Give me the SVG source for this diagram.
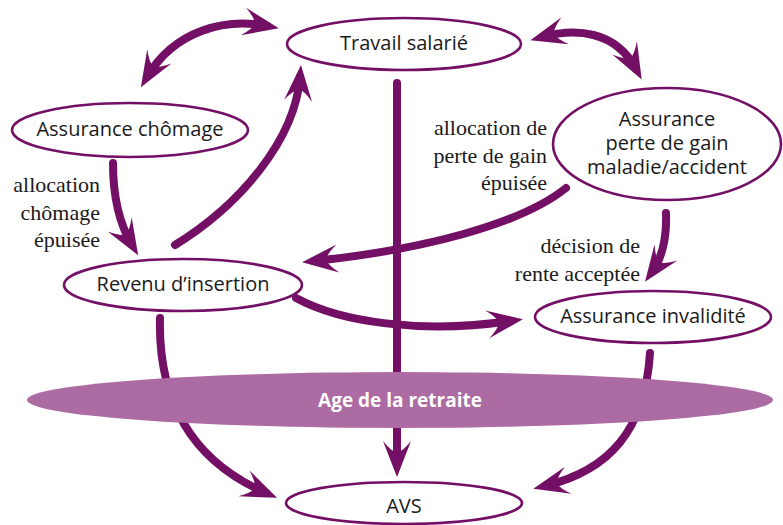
<svg xmlns="http://www.w3.org/2000/svg" width="783" height="525" viewBox="0 0 783 525">
<style>
.node{fill:#fff;stroke:#730f65;stroke-width:2.6}
.lbl{font-family:"Open Sans","Liberation Sans",sans-serif;font-size:20px;fill:#1a1a1a;text-anchor:middle}
.con{fill:none;stroke:#730f65;stroke-width:8;stroke-linecap:round}
.arr{marker-end:url(#ah)}
.dbl{marker-start:url(#ah);marker-end:url(#ah)}
</style>
<defs>
<marker id="ah" markerUnits="userSpaceOnUse" markerWidth="50" markerHeight="40" viewBox="-30 -20 50 40" refX="0" refY="0" orient="auto-start-reverse">
<path d="M12,0 L-24,-14 Q-14,-6 -12,0 Q-14,6 -24,14 Z" fill="#730f65"/>
</marker>
</defs>
<rect width="783" height="525" fill="#fff"/>
<g id="connectors">
<path class="con dbl" d="M147,77 C175,30 225,18 267,26"/>
<path class="con dbl" d="M542,37 C575,28 615,30 636,69"/>
<path class="con arr" d="M113,163 C113,200 120,225 132,245"/>
<path class="con arr" d="M175,245 C240,205 295,140 300,77"/>
<path class="con arr" d="M397,83 L397,465"/>
<path class="con arr" d="M566,188 C520,225 420,250 314,261"/>
<path class="con arr" d="M666,213 C667,240 662,258 652,272"/>
<path class="con arr" d="M296,298 C340,322 420,334 511,321"/>
<path class="con arr" d="M160,318 C158,400 190,460 266,493"/>
<path class="con arr" d="M650,353 C645,430 610,470 545,486"/>
</g>
<g id="age">
<ellipse cx="400" cy="400" rx="373" ry="28" fill="#ac6ca3"/>
<text x="400" y="407" font-family="'Open Sans','Liberation Sans',sans-serif" font-size="19" font-weight="bold" fill="#fff" text-anchor="middle">Age de la retraite</text>
</g>
<g id="travail">
<ellipse class="node" cx="404" cy="44" rx="117" ry="26"/>
<text class="lbl" x="404" y="50">Travail salarié</text>
</g>
<g id="chomage">
<ellipse class="node" cx="130" cy="130" rx="118" ry="27"/>
<text class="lbl" x="130" y="136">Assurance chômage</text>
</g>
<g id="perte">
<ellipse class="node" cx="667" cy="144" rx="114" ry="56"/>
<text class="lbl" x="667" y="126">Assurance</text>
<text class="lbl" x="667" y="150">perte de gain</text>
<text class="lbl" x="667" y="174">maladie/accident</text>
</g>
<g id="revenu">
<ellipse class="node" cx="183" cy="285" rx="119" ry="26"/>
<text class="lbl" x="183" y="291">Revenu d’insertion</text>
</g>
<g id="invalidite">
<ellipse class="node" cx="653" cy="317" rx="118" ry="26"/>
<text class="lbl" x="653" y="323">Assurance invalidité</text>
</g>
<g id="avs">
<ellipse class="node" cx="404" cy="503" rx="118" ry="21"/>
<text class="lbl" x="404" y="513">AVS</text>
</g>
<g id="notes" font-family="'Liberation Serif','DejaVu Serif',serif" font-size="22" fill="#1a1a1a" text-anchor="end">
<text x="100" y="192">allocation</text>
<text x="100" y="220">chômage</text>
<text x="100" y="247">épuisée</text>
<text x="547" y="135">allocation de</text>
<text x="547" y="163">perte de gain</text>
<text x="547" y="190">épuisée</text>
<text x="640" y="253">décision de</text>
<text x="640" y="281">rente acceptée</text>
</g>
</svg>
